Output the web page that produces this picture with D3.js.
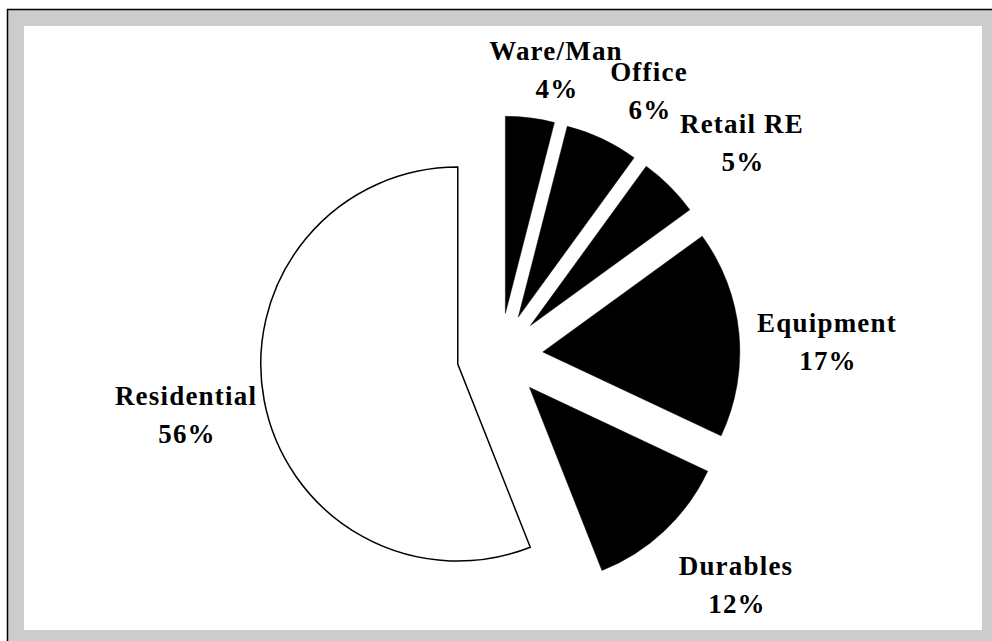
<!DOCTYPE html>
<html>
<head>
<meta charset="utf-8">
<script src="https://cdnjs.cloudflare.com/ajax/libs/d3/7.8.5/d3.min.js"></script>
<style>
  html, body { margin: 0; padding: 0; background: #fff; }
  svg { display: block; }
  .lbl { font-family: "Liberation Serif", "Times New Roman", serif; font-weight: bold; font-size: 27px; letter-spacing: 1.2px; fill: #000; }
</style>
</head>
<body>
<div id="chart"></div>
<script>
// data, clockwise from 12 o'clock
const categories = ['Ware/Man', 'Office', 'Retail RE', 'Equipment', 'Durables', 'Residential'];
const shares = [4, 6, 5, 17, 12, 56];
const pctLabels = ['4%', '6%', '5%', '17%', '12%', '56%'];
const fills = ['#000', '#000', '#000', '#000', '#000', '#fff'];

// label anchors (centre of first line baseline), relative to page
const labelPos = [[556, 60], [649, 81], [742, 133], [827, 332], [736, 575], [186, 405]];

const width = 992, height = 641;
const cx = 500, cy = 356;
const radius = 197;
const explode = 43;

const svg = d3.select('#chart')
  .append('svg')
  .attr('width', width)
  .attr('height', height);

// frame
svg.append('rect')
  .attr('x', 7).attr('y', 9)
  .attr('width', width - 7).attr('height', height - 9)
  .attr('fill', '#cccccc');
svg.append('path')
  .attr('d', `M7.5,${height} L7.5,9.5 L${width},9.5`)
  .attr('fill', 'none')
  .attr('stroke', '#000')
  .attr('stroke-width', 1.5);
svg.append('rect')
  .attr('x', 24).attr('y', 26)
  .attr('width', 982 - 24).attr('height', 630 - 26)
  .attr('fill', '#fff');

const pie = d3.pie().sort(null).value((d) => d);
const arc = d3.arc().innerRadius(0).outerRadius(radius);
const arcs = pie(shares);

const g = svg.append('g').attr('transform', `translate(${cx},${cy})`);

g.selectAll('path.slice')
  .data(arcs)
  .enter()
  .append('path')
  .attr('class', 'slice')
  .attr('transform', (d) => {
    const mid = (d.startAngle + d.endAngle) / 2;
    return `translate(${explode * Math.sin(mid)},${-explode * Math.cos(mid)})`;
  })
  .attr('d', arc)
  .attr('fill', (d, i) => fills[i])
  .attr('stroke', '#000')
  .attr('stroke-width', (d, i) => (fills[i] === '#fff' ? 1.5 : 0.5))
  .attr('stroke-linejoin', 'miter');

// labels
const lbl = svg.append('g');
categories.forEach((name, i) => {
  const [x, y] = labelPos[i];
  const t = lbl.append('text')
    .attr('class', 'lbl')
    .attr('text-anchor', 'middle')
    .attr('x', x)
    .attr('y', y);
  t.append('tspan').attr('x', x).text(name);
  t.append('tspan').attr('x', x + 1).attr('dy', 38).text(pctLabels[i]);
});
</script>
</body>
</html>
